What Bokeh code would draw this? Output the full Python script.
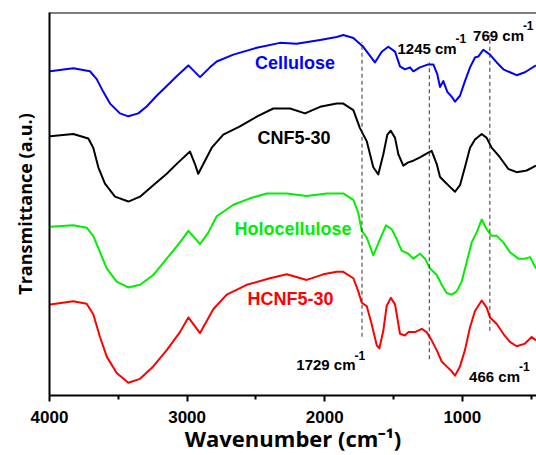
from bokeh.plotting import figure
from bokeh.models import Range1d, FixedTicker, Label, Span
from bokeh.embed import file_html
from bokeh.resources import INLINE

# ---- data (wavenumber in cm-1, transmittance in a.u., offset curves) ----
wn_cellulose = [3996, 3827, 3706, 3657, 3609, 3560, 3488, 3427, 3355, 3294, 3221, 3148, 3076, 2991,
                2906, 2834, 2785, 2664, 2494, 2325, 2204, 2034, 1913, 1865, 1792, 1720, 1635, 1586,
                1538, 1489, 1453, 1417, 1380, 1356, 1308, 1247, 1211, 1182, 1162, 1138, 1109, 1077,
                1053, 1017, 981, 944, 908, 884, 848, 799, 750, 702, 654, 605, 545, 465]
t_cellulose = [331, 334, 331, 323, 310, 298, 288, 285, 288, 295, 306, 316, 326, 337,
               325, 335, 341, 348, 355, 360, 359, 363, 366, 368, 365, 356, 340, 351,
               356, 351, 336, 333, 335, 331, 335, 338, 338, 328, 315, 321, 310, 305,
               300, 306, 321, 335, 345, 346, 353, 348, 340, 333, 330, 327, 330, 337]

wn_cnf = [3996, 3827, 3718, 3682, 3645, 3597, 3524, 3427, 3342, 3246, 3148, 3064, 2979, 2943,
          2919, 2882, 2821, 2737, 2616, 2494, 2374, 2252, 2143, 2034, 1913, 1865, 1792, 1744,
          1695, 1647, 1611, 1574, 1545, 1520, 1489, 1465, 1429, 1393, 1356, 1308, 1247, 1223,
          1186, 1162, 1126, 1090, 1053, 1017, 981, 944, 908, 859, 823, 787, 726, 666, 605, 532, 465]
t_cnf = [264.7, 267, 262.3, 253, 233, 216.3, 203, 198, 203, 214.7, 226.3, 238, 249, 236.3,
         226.3, 236.3, 253, 266.3, 274.7, 284.7, 293, 293, 288, 294.7, 298, 298, 291.3, 273,
         259.7, 233, 225.7, 246.3, 266.3, 270.3, 263, 246.3, 234.7, 238, 239.7, 243, 248, 249.7,
         236.3, 223, 218, 213, 208, 214.7, 233, 253, 261.3, 267, 263, 253, 243, 231.3, 228, 229.7, 234.7]

wn_holo = [3996, 3827, 3730, 3682, 3633, 3584, 3512, 3427, 3342, 3246, 3148, 3052, 2991, 2906,
           2846, 2785, 2664, 2543, 2422, 2276, 2131, 1986, 1865, 1792, 1756, 1731, 1695, 1647,
           1598, 1555, 1513, 1477, 1441, 1393, 1356, 1308, 1271, 1235, 1186, 1150, 1114, 1077,
           1041, 1005, 968, 932, 896, 859, 823, 787, 750, 702, 654, 593, 545, 508, 465]
t_holo = [172.3, 173.7, 171.3, 163, 146.3, 129.7, 116.3, 110.3, 113, 123, 139.7, 156.3, 168, 154.7,
          166.3, 183, 194.7, 201.3, 206.3, 206.3, 203.7, 206.3, 206.3, 199.7, 186.3, 168, 161.3, 143,
          159.7, 173.7, 169.7, 159.7, 148, 144.7, 139.7, 144.7, 139.7, 129.7, 123, 113, 104.7, 103,
          106.3, 116.3, 136.3, 156.3, 166.3, 179.7, 169.7, 163, 163, 156.3, 146.3, 139.7, 139.7, 141.3, 129.7]

wn_hcnf = [3996, 3827, 3730, 3682, 3633, 3584, 3512, 3427, 3342, 3246, 3148, 3052, 2991, 2906,
           2810, 2712, 2567, 2398, 2276, 2131, 2010, 1913, 1865, 1792, 1756, 1731, 1695, 1659,
           1622, 1603, 1574, 1550, 1520, 1489, 1453, 1417, 1393, 1344, 1295, 1259, 1223, 1186,
           1150, 1114, 1077, 1053, 1017, 981, 944, 908, 859, 823, 799, 750, 702, 654, 605, 545, 496, 465]
t_hcnf = [93, 96.3, 93.7, 83, 59.7, 39.7, 23, 13, 17, 29.7, 46.3, 64.7, 79.7, 63.7,
          88, 103, 113, 119.7, 123.7, 118, 123.7, 126.3, 126.3, 119.7, 106.3, 94.7, 91.3, 73,
          51.3, 48, 66.3, 91.3, 99.7, 93, 63, 61.3, 64.7, 64.7, 68, 64.7, 56.3, 46.3,
          34.7, 29.7, 24.7, 20.3, 29.7, 46.3, 69.7, 86.3, 97, 89.7, 79.7, 73, 63, 54.7, 50.3, 53, 59.7, 56.3]

series_names = ["Cellulose", "CNF5-30", "Holocellulose", "HCNF5-30"]
series_colors = ["#0000ff", "#000000", "#00ee00", "#ff0000"]

# marked bands (dashed guide lines)
band_wn = [1729, 1240, 800]
band_bottom = [60, 37, 66]
band_top = [361, 340, 368]
band_labels = ["1729 cm", "1245 cm", "769 cm", "466 cm"]

x_ticks = [4000, 3000, 2000, 1000]
x_minor = [3500, 2500, 1500, 500]

p = figure(width=536, height=455, output_backend="svg", toolbar_location=None,
           x_range=Range1d(4000, 461), y_range=Range1d(0, 391),
           min_border_left=49, min_border_right=0, min_border_top=12, min_border_bottom=52)
p.outline_line_color = None
p.xgrid.visible = False
p.ygrid.visible = False
p.background_fill_color = "white"

data = [(wn_cellulose, t_cellulose), (wn_cnf, t_cnf), (wn_holo, t_holo), (wn_hcnf, t_hcnf)]
for (xs, ys), c in zip(data, series_colors):
    p.line(xs, ys, line_color=c, line_width=2, line_join="round")

p.segment(x0=band_wn, y0=band_bottom, x1=band_wn, y1=band_top,
          line_color="#333333", line_width=1, line_dash="4 3")

# axes
ax = p.xaxis[0]
ax.ticker = FixedTicker(ticks=x_ticks, minor_ticks=x_minor)
ax.axis_line_width = 2
ax.major_tick_line_width = 2
ax.minor_tick_line_width = 2
ax.major_tick_out = 6
ax.major_tick_in = 0
ax.minor_tick_out = 4
ax.minor_tick_in = 0
ax.major_label_standoff = 9
ax.major_label_text_font = "Liberation Sans"
ax.major_label_text_font_style = "bold"
ax.major_label_text_font_size = "17px"
ax.major_label_text_color = "black"
ax.axis_label = "Wavenumber (cm\u207b\u00b9)"
ax.axis_label_text_font = "Open Sans"
ax.axis_label_text_font_style = "bold"
ax.axis_label_text_font_size = "22px"
ax.axis_label_standoff = -3
ax.axis_label_text_color = "black"

ay = p.yaxis[0]
ay.ticker = FixedTicker(ticks=[])
ay.axis_line_width = 2
ay.major_tick_line_color = None
ay.minor_tick_line_color = None
ay.axis_label = "Transmittance (a.u.)"
ay.axis_label_text_font = "Open Sans"
ay.axis_label_text_font_style = "bold"
ay.axis_label_text_font_size = "18px"
ay.axis_label_standoff = 13
ay.axis_label_text_color = "black"

p.add_layout(Span(location=391, dimension="width", line_color="black", line_width=2))

# series names
name_pos = [(2216, 339.5), (2223, 263), (2230, 169.5), (2249, 98.5)]
for name, c, (x, y) in zip(series_names, series_colors, name_pos):
    p.add_layout(Label(x=x, y=y, text=name, text_color=c, text_font="Liberation Sans",
                       text_font_style="bold", text_font_size="18px",
                       text_align="center", text_baseline="middle"))

# band annotations with superscript -1
ann_pos = [(1776, 31.3), (1041, 354.7), (552, 368), (581, 19.7)]
for txt, (x, y) in zip(band_labels, ann_pos):
    p.add_layout(Label(x=x, y=y, text=txt, text_font="Liberation Sans", text_font_style="bold",
                       text_font_size="15px", text_align="right", text_baseline="alphabetic",
                       text_color="black"))
    p.add_layout(Label(x=x + 8, y=y + 10, text="-1", text_font="Liberation Sans", text_font_style="bold",
                       text_font_size="12px", text_align="left", text_baseline="alphabetic",
                       text_color="black"))

open("out.html", "w").write(file_html(p, INLINE))
